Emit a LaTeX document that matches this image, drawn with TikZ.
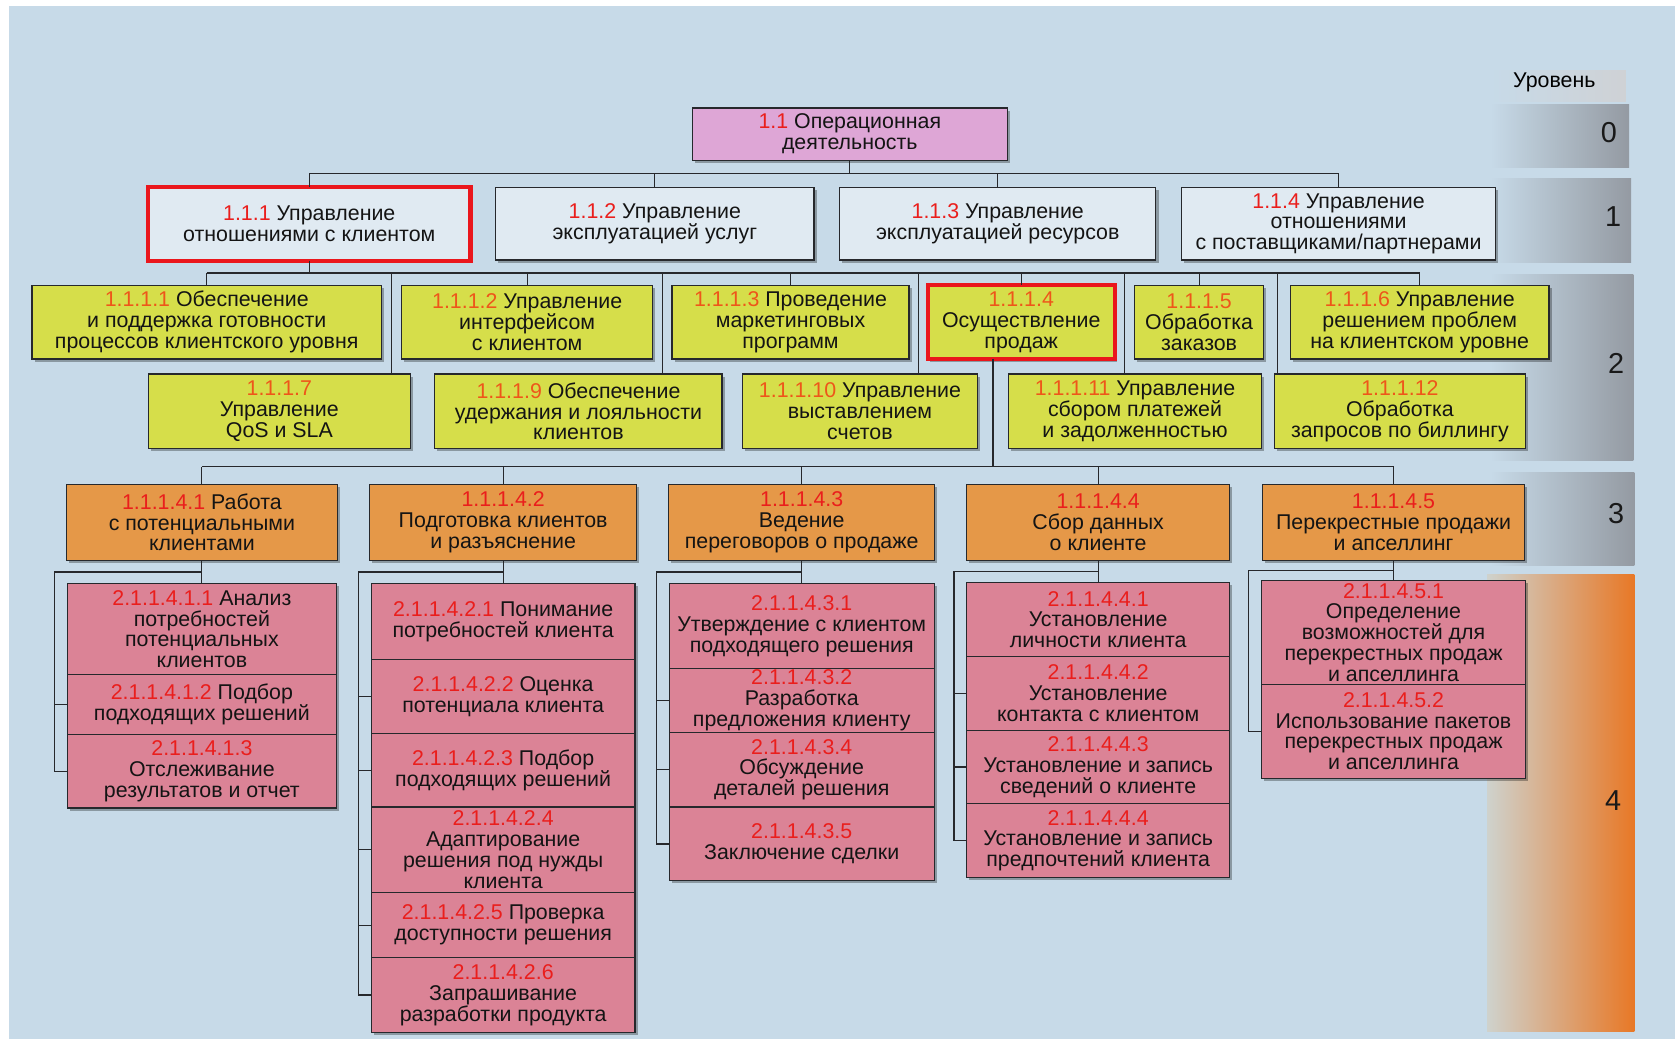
\documentclass[tikz,border=0pt]{standalone}
\usepackage{fontspec}
\setmainfont{Liberation Sans}
\usetikzlibrary{positioning,calc,shadows}

\definecolor{bgblue}{RGB}{199,218,232}
\definecolor{lvlone}{RGB}{224,234,242}
\definecolor{opviolet}{RGB}{222,166,214}
\definecolor{lvltwo}{RGB}{214,222,74}
\definecolor{lvlthree}{RGB}{229,152,72}
\definecolor{lvlfour}{RGB}{219,131,150}
\definecolor{numred}{RGB}{234,30,28}
\definecolor{numorange}{RGB}{238,86,26}
\definecolor{selred}{RGB}{234,22,28}
\definecolor{bandgrey}{RGB}{148,154,162}
\definecolor{bandorange}{RGB}{232,120,38}
\definecolor{bandmid}{RGB}{236,178,96}
\definecolor{inkline}{RGB}{38,40,44}

\newcommand\wnum[1]{{\color{numred}#1}}
\newcommand\onum[1]{{\color{numorange}#1}}

\tikzset{
  card/.style={draw=inkline, line width=1.2pt, align=center, inner sep=0pt, outer sep=0pt,
    font=\fontsize{20}{19.5}\selectfont, text=black!92,
    drop shadow={shadow xshift=2.5pt, shadow yshift=-2.5pt, opacity=0.3, fill=black}},
  opbox/.style={card, fill=opviolet},
  onebox/.style={card, fill=lvlone},
  twobox/.style={card, fill=lvltwo},
  threebox/.style={card, fill=lvlthree},
  subbox/.style={card, fill=lvlfour},
  selbox/.style={draw=selred, line width=4pt},
  sz/.style 2 args={minimum width=#1pt, minimum height=#2pt},
  link/.style={draw=inkline, line width=1.1pt},
  lvlnum/.style={font=\fontsize{27}{27}\selectfont, text=black!90, inner sep=0pt}
}

\begin{document}
\begin{tikzpicture}[x=1pt,y=-1pt]
\useasboundingbox (0,0) rectangle (1568,973);
\fill[white] (0,0) rectangle (1568,973);
\fill[bgblue] (8,6) rectangle (1568,973);

% level bands
\shade[left color=bgblue, right color=bandgrey!45] (1395,66) rectangle (1522,95);
\shade[left color=bgblue, right color=bandgrey] (1395,98) rectangle (1525,157);
\shade[left color=bgblue, right color=bandgrey] (1395,167) rectangle (1527,246);
\shade[left color=bgblue, right color=bandgrey] (1395,257) rectangle (1529,431);
\shade[left color=bgblue, right color=bandgrey] (1395,442) rectangle (1530,529);
\shade[left color=bgblue!80!bandmid, middle color=bandmid, right color=bandorange] (1392,538) rectangle (1530,966);

\node[font=\fontsize{20}{20}\selectfont, inner sep=0pt] (lvl) at (1455,77) {Уровень};
\node[lvlnum] (n0) at (1506,124) {0};
\node[lvlnum] (n1) at (1510,203) {1};
\node[lvlnum] (n2) at (1513,340) {2};
\node[lvlnum] (n3) at (1513,481) {3};
\node[lvlnum] (n4) at (1510,749) {4};

% level 0 and 1
\node[opbox, sz={295}{49}] (A) at (795.5,125.5) {\wnum{1.1} Операционная\\деятельность};
\node[onebox, selbox, sz={302}{69}] (B1) at (289.5,209.5) {\wnum{1.1.1} Управление\\отношениями с клиентом};
\node[onebox, sz={298}{68}] (B2) at (613,209.5) {\wnum{1.1.2} Управление\\эксплуатацией услуг};
\node[onebox, sz={296}{68}] (B3) at (934,209.5) {\wnum{1.1.3} Управление\\эксплуатацией ресурсов};
\node[onebox, sz={294}{68}] (B4) at (1253,209.5) {\wnum{1.1.4} Управление\\отношениями\\с поставщиками/партнерами};

% level 2
\node[twobox, sz={327}{69}] (C1) at (193.5,301.5) {\onum{1.1.1.1} Обеспечение\\и поддержка готовности\\процессов клиентского уровня};
\node[twobox, sz={235}{69}] (C2) at (493.5,301.5) {\onum{1.1.1.2} Управление\\интерфейсом\\с клиентом};
\node[twobox, sz={222}{69}] (C3) at (740,301.5) {\onum{1.1.1.3} Проведение\\маркетинговых\\программ};
\node[twobox, selbox, sz={175}{69}] (C4) at (956,301.5) {\onum{1.1.1.4}\\Осуществление\\продаж};
\node[twobox, sz={121}{69}] (C5) at (1122.5,301.5) {\onum{1.1.1.5}\\Обработка\\заказов};
\node[twobox, sz={242}{69}] (C6) at (1329,301.5) {\onum{1.1.1.6} Управление\\решением проблем\\на клиентском уровне};

\node[twobox, sz={245}{70}] (D1) at (261.5,385) {\onum{1.1.1.7}\\Управление\\QoS и SLA};
\node[twobox, sz={269}{70}] (D2) at (541.5,385) {\onum{1.1.1.9} Обеспечение\\удержания и лояльности\\клиентов};
\node[twobox, sz={220}{70}] (D3) at (805,385) {\onum{1.1.1.10} Управление\\выставлением\\счетов};
\node[twobox, sz={237}{70}] (D4) at (1062.5,385) {\onum{1.1.1.11} Управление\\сбором платежей\\и задолженностью};
\node[twobox, sz={235}{70}] (D5) at (1310.5,385) {\onum{1.1.1.12}\\Обработка\\запросов по биллингу};

% level 3
\node[threebox, sz={254}{71}] (E1) at (189,489) {\wnum{1.1.1.4.1} Работа\\с потенциальными\\клиентами};
\node[threebox, sz={250}{71}] (E2) at (471,489) {\wnum{1.1.1.4.2}\\Подготовка клиентов\\и разъяснение};
\node[threebox, sz={249}{71}] (E3) at (750.5,489) {\wnum{1.1.1.4.3}\\Ведение\\переговоров о продаже};
\node[threebox, sz={246}{71}] (E4) at (1028,489) {\wnum{1.1.1.4.4}\\Сбор данных\\о клиенте};
\node[threebox, sz={245}{71}] (E5) at (1304.5,489) {\wnum{1.1.1.4.5}\\Перекрестные продажи\\и апселлинг};

% level 4
\node[subbox, sz={252}{85}, below=22pt of E1] (s11) {\wnum{2.1.1.4.1.1} Анализ\\потребностей\\потенциальных\\клиентов};
\node[subbox, sz={252}{56}, below=0pt of s11] (s12) {\wnum{2.1.1.4.1.2} Подбор\\подходящих решений};
\node[subbox, sz={252}{69}, below=0pt of s12] (s13) {\wnum{2.1.1.4.1.3}\\Отслеживание\\результатов и отчет};

\node[subbox, sz={247}{71}, below=22pt of E2] (s21) {\wnum{2.1.1.4.2.1} Понимание\\потребностей клиента};
\node[subbox, sz={247}{69}, below=0pt of s21] (s22) {\wnum{2.1.1.4.2.2} Оценка\\потенциала клиента};
\node[subbox, sz={247}{69}, below=0pt of s22] (s23) {\wnum{2.1.1.4.2.3} Подбор\\подходящих решений};
\node[subbox, sz={247}{80}, below=0pt of s23] (s24) {\wnum{2.1.1.4.2.4}\\Адаптирование\\решения под нужды\\клиента};
\node[subbox, sz={247}{61}, below=0pt of s24] (s25) {\wnum{2.1.1.4.2.5} Проверка\\доступности решения};
\node[subbox, sz={247}{70}, below=0pt of s25] (s26) {\wnum{2.1.1.4.2.6}\\Запрашивание\\разработки продукта};

\node[subbox, sz={248}{79}, below=22pt of E3] (s31) {\wnum{2.1.1.4.3.1}\\Утверждение с клиентом\\подходящего решения};
\node[subbox, sz={248}{60}, below=0pt of s31] (s32) {\wnum{2.1.1.4.3.2}\\Разработка\\предложения клиенту};
\node[subbox, sz={248}{70}, below=0pt of s32] (s33) {\wnum{2.1.1.4.3.4}\\Обсуждение\\деталей решения};
\node[subbox, sz={248}{69}, below=0pt of s33] (s34) {\wnum{2.1.1.4.3.5}\\Заключение сделки};

\node[subbox, sz={246}{69}, below=21pt of E4] (s41) {\wnum{2.1.1.4.4.1}\\Установление\\личности клиента};
\node[subbox, sz={246}{69}, below=0pt of s41] (s42) {\wnum{2.1.1.4.4.2}\\Установление\\контакта с клиентом};
\node[subbox, sz={246}{69}, below=0pt of s42] (s43) {\wnum{2.1.1.4.4.3}\\Установление и запись\\сведений о клиенте};
\node[subbox, sz={246}{69}, below=0pt of s43] (s44) {\wnum{2.1.1.4.4.4}\\Установление и запись\\предпочтений клиента};

\node[subbox, sz={247}{97}, below=19pt of E5] (s51) {\wnum{2.1.1.4.5.1}\\Определение\\возможностей для\\перекрестных продаж\\и апселлинга};
\node[subbox, sz={247}{88}, below=0pt of s51] (s52) {\wnum{2.1.1.4.5.2}\\Использование пакетов\\перекрестных продаж\\и апселлинга};

% connectors
\coordinate (bus1) at ($(A.south)!.5!(B1.north)$);
\draw[link] (A.south) -- (A.south |- bus1);
\draw[link] (B1.north |- bus1) -- (B4.north |- bus1);
\foreach \n in {B1,B2,B3,B4}
  \draw[link] (\n.north) -- (\n.north |- bus1);

\coordinate (bus2) at ($(B1.south)!.5!(C1.north)$);
\draw[link] (B1.south) -- (B1.south |- bus2);
\draw[link] (C1.north |- bus2) -- (C6.north |- bus2);
\foreach \n in {C1,C2,C3,C4,C5,C6}
  \draw[link] (\n.north) -- (\n.north |- bus2);
\coordinate (g1) at ($(C1.east)!.5!(C2.west)$);
\coordinate (g2) at ($(C2.east)!.5!(C3.west)$);
\coordinate (g3) at ($(C3.east)!.5!(C4.west)$);
\coordinate (g4) at ($(C4.east)!.5!(C5.west)$);
\coordinate (g5) at ($(C5.east)!.5!(C6.west)$);
\foreach \g/\d in {g1/D1,g2/D2,g3/D3,g4/D4,g5/D5}
  \draw[link] (\g |- bus2) -- (\g |- \d.north);

\coordinate (bus3) at ($(D1.south)!.5!(E1.north)$);
\coordinate (g6) at ($(D3.east)!.5!(D4.west)$);
\draw[link] (g6 |- C4.south) -- (g6 |- bus3);
\draw[link] (E1.north |- bus3) -- (E5.north |- bus3);
\foreach \n in {E1,E2,E3,E4,E5}
  \draw[link] (\n.north) -- (\n.north |- bus3);

\foreach \e/\t/\l in {E1/s11/s13,E2/s21/s26,E3/s31/s34,E4/s41/s44,E5/s51/s52} {
  \draw[link] (\e.south) -- (\t.north);
  \draw[link] ($(\e.south)!.5!(\t.north)$) -| ([xshift=-12pt]\l.west) -- (\l.west);
}
\foreach \s in {s12,s22,s23,s24,s25,s32,s33,s42,s43}
  \draw[link] ([xshift=-12pt]\s.west) -- (\s.west);
\end{tikzpicture}
\end{document}
